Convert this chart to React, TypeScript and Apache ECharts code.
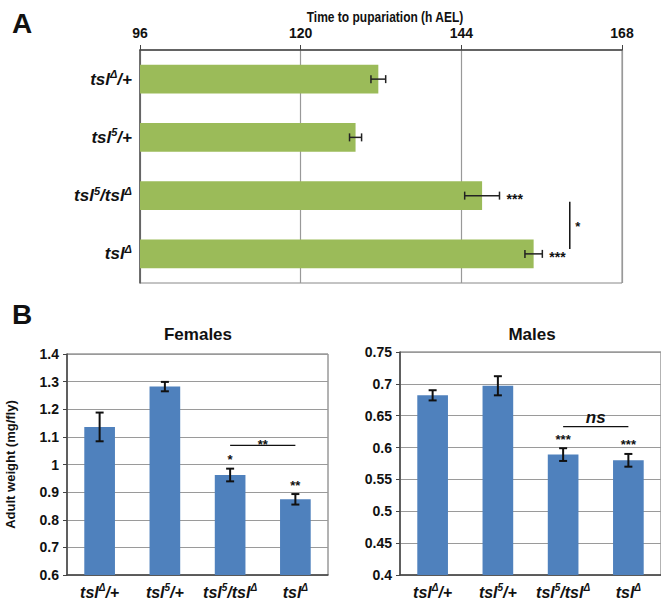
import React, { useEffect, useRef } from "react";
import * as echarts from "echarts";

// ---------- Data ----------
const genotypes = ["tslΔ/+", "tsl5/+", "tsl5/tslΔ", "tslΔ"];
const timeTicks = [96, 120, 144, 168];
const timeTitle = "Time to pupariation (h AEL)";
const timeMeans = [131.6, 128.2, 147.1, 154.8];
const timeErrors = [1.1, 0.9, 2.6, 1.3];
const timeSig = ["", "", "***", "***"];
const timeBracket = [160.2, 2, 3]; // x value, from row, to row
const timeBracketLabel = "*";

const femaleMeans = [1.136, 1.282, 0.962, 0.874];
const femaleErrors = [0.052, 0.017, 0.023, 0.019];
const femaleSig = ["", "", "*", "**"];
const femaleBracket = [2, 3, 1.069]; // from cat, to cat, y value
const femaleBracketLabel = "**";

const maleMeans = [0.682, 0.697, 0.589, 0.58];
const maleErrors = [0.008, 0.015, 0.01, 0.01];
const maleSig = ["", "", "***", "***"];
const maleBracket = [2, 3, 0.633];
const maleBracketLabel = "ns";

const FONT = "Liberation Sans, Arial, sans-serif";

function richLabel(s: string) {
  const parts = s.split(/(tsl)(Δ|5)/);
  let out = "";
  for (let i = 0; i < parts.length; i++) {
    const p = parts[i];
    if (!p) continue;
    if (p === "tsl") {
      out += "{i|tsl}{s|" + parts[i + 1] + "}";
      i++;
    } else {
      out += "{i|" + p + "}";
    }
  }
  return out;
}

function richStyles(size: number) {
  return {
    i: { fontFamily: FONT, fontWeight: "bold", fontStyle: "italic", fontSize: size, color: "#111", lineHeight: size + 4 },
    s: { fontFamily: FONT, fontWeight: "bold", fontStyle: "italic", fontSize: Math.round(size * 0.62), color: "#111", verticalAlign: "top", lineHeight: size + 4 },
  };
}

function starText(x: number, y: number, text: string, align: string, size = 14, italic = false) {
  return {
    type: "text",
    x,
    y,
    style: {
      text,
      fill: "#111",
      font: `${italic ? "italic " : ""}bold ${size}px ${FONT}`,
      align,
      verticalAlign: "middle",
    },
  };
}

export default function App() {
  const ref = useRef<HTMLDivElement>(null);
  useEffect(() => {
    const chart = echarts.init(ref.current!, null, { renderer: "svg" });

    const hErr = (params: any, api: any) => {
      const m = api.value(0);
      const c = api.value(1);
      const e = api.value(2);
      const lo = api.coord([m - e, c]);
      const hi = api.coord([m + e, c]);
      const st = { stroke: "#222", lineWidth: 1.5 };
      const children: any[] = [
        { type: "line", shape: { x1: lo[0], y1: lo[1], x2: hi[0], y2: hi[1] }, style: st },
        { type: "line", shape: { x1: lo[0], y1: lo[1] - 4, x2: lo[0], y2: lo[1] + 4 }, style: st },
        { type: "line", shape: { x1: hi[0], y1: hi[1] - 4, x2: hi[0], y2: hi[1] + 4 }, style: st },
      ];
      const lab = timeSig[params.dataIndex];
      if (lab) children.push(starText(hi[0] + 7, hi[1] + 3, lab, "left", 14));
      return { type: "group", children };
    };

    const vErr = (sig: string[]) => (params: any, api: any) => {
      const c = api.value(0);
      const m = api.value(1);
      const e = api.value(2);
      const top = api.coord([c, m + e]);
      const bot = api.coord([c, m - e]);
      const st = { stroke: "#111", lineWidth: 2 };
      const children: any[] = [
        { type: "line", shape: { x1: top[0], y1: top[1], x2: bot[0], y2: bot[1] }, style: st },
        { type: "line", shape: { x1: top[0] - 4, y1: top[1], x2: top[0] + 4, y2: top[1] }, style: st },
        { type: "line", shape: { x1: bot[0] - 4, y1: bot[1], x2: bot[0] + 4, y2: bot[1] }, style: st },
      ];
      const lab = sig[params.dataIndex];
      if (lab) children.push(starText(top[0], top[1] - 9, lab, "center", 13));
      return { type: "group", children };
    };

    const hBracket = (label: string, italic: boolean, size: number, gap: number) => (params: any, api: any) => {
      const a = api.coord([api.value(0), api.value(2)]);
      const b = api.coord([api.value(1), api.value(2)]);
      return {
        type: "group",
        children: [
          { type: "line", shape: { x1: a[0], y1: a[1], x2: b[0], y2: b[1] }, style: { stroke: "#111", lineWidth: 1.2 } },
          starText((a[0] + b[0]) / 2, a[1] - gap, label, "center", size, italic),
        ],
      };
    };

    const vBracket = (params: any, api: any) => {
      const x = api.value(0);
      const a = api.coord([x, api.value(1)]);
      const b = api.coord([x, api.value(2)]);
      return {
        type: "group",
        children: [
          { type: "line", shape: { x1: a[0], y1: a[1] + 6, x2: b[0], y2: b[1] - 5 }, style: { stroke: "#111", lineWidth: 1.5 } },
          starText(a[0] + 8, (a[1] + b[1]) / 2 + 2, timeBracketLabel, "center", 13),
        ],
      };
    };

    const catAxis = (gridIndex: number, size: number) => ({
      type: "category",
      gridIndex,
      data: genotypes,
      axisLine: { show: true, lineStyle: { color: "#444", width: 1.5 } },
      axisTick: { show: false },
      axisLabel: {
        formatter: (v: string) => richLabel(v),
        rich: richStyles(size),
        margin: 7,
        interval: 0,
      },
    });

    const valAxisB = (gridIndex: number, min: number, max: number, interval: number, name?: string) => ({
      type: "value",
      gridIndex,
      min,
      max,
      interval,
      name,
      nameLocation: "middle",
      nameGap: 50,
      nameTextStyle: { fontFamily: FONT, fontWeight: "bold", fontSize: 13, color: "#111" },
      axisLine: { show: true, lineStyle: { color: "#444", width: 1.5 } },
      axisTick: { show: true, length: 4, lineStyle: { color: "#444" } },
      splitLine: { show: true, lineStyle: { color: "#9a9a9a", width: 1.2 } },
      axisLabel: {
        fontFamily: FONT,
        fontWeight: "bold",
        fontSize: 14,
        color: "#111",
        margin: 8,
        formatter: (v: number) => String(+v.toFixed(2)),
      },
    });

    chart.setOption({
      animation: false,
      backgroundColor: "#fff",
      grid: [
        { left: 140, top: 50, width: 482, height: 233, show: true, borderColor: "#888", borderWidth: 1, backgroundColor: "transparent" },
        { left: 67, top: 354, width: 261, height: 222, show: true, borderColor: "#666", borderWidth: 1, backgroundColor: "transparent" },
        { left: 400, top: 352, width: 262, height: 224, show: true, borderColor: "#666", borderWidth: 1, backgroundColor: "transparent" },
      ],
      xAxis: [
        {
          type: "value",
          gridIndex: 0,
          position: "top",
          min: timeTicks[0],
          max: timeTicks[timeTicks.length - 1],
          interval: timeTicks[1] - timeTicks[0],
          axisLine: { show: true, lineStyle: { color: "#444", width: 1.5 } },
          axisTick: { show: true, length: 5, lineStyle: { color: "#444" } },
          splitLine: { show: true, lineStyle: { color: "#999", width: 1.2 } },
          axisLabel: { fontFamily: FONT, fontWeight: "bold", fontSize: 14, color: "#111", margin: 10 },
        },
        catAxis(1, 16),
        catAxis(2, 16),
      ],
      yAxis: [
        { ...catAxis(0, 17), inverse: true, axisLine: { show: true, lineStyle: { color: "#555", width: 1.5 } }, axisLabel: { ...catAxis(0, 17).axisLabel, margin: 8 } },
        valAxisB(1, 0.6, 1.4, 0.1, "Adult weight (mg/fly)"),
        valAxisB(2, 0.4, 0.75, 0.05),
      ],
      series: [
        {
          type: "bar",
          xAxisIndex: 0,
          yAxisIndex: 0,
          data: timeMeans,
          barWidth: "49%",
          itemStyle: { color: "#9BBB59" },
        },
        {
          type: "custom",
          xAxisIndex: 0,
          yAxisIndex: 0,
          data: timeMeans.map((m, i) => [m, i, timeErrors[i]]),
          encode: { x: 0, y: 1 },
          renderItem: hErr,
          z: 5,
        },
        {
          type: "custom",
          xAxisIndex: 0,
          yAxisIndex: 0,
          data: [timeBracket],
          encode: { x: 0, y: [1, 2] },
          renderItem: vBracket,
          z: 5,
        },
        {
          type: "bar",
          xAxisIndex: 1,
          yAxisIndex: 1,
          data: femaleMeans,
          barWidth: "47%",
          itemStyle: { color: "#4F81BD" },
        },
        {
          type: "custom",
          xAxisIndex: 1,
          yAxisIndex: 1,
          data: femaleMeans.map((m, i) => [i, m, femaleErrors[i]]),
          encode: { x: 0, y: 1 },
          renderItem: vErr(femaleSig),
          z: 5,
        },
        {
          type: "custom",
          xAxisIndex: 1,
          yAxisIndex: 1,
          data: [femaleBracket],
          encode: { x: [0, 1], y: 2 },
          renderItem: hBracket(femaleBracketLabel, false, 13, 1),
          z: 5,
        },
        {
          type: "bar",
          xAxisIndex: 2,
          yAxisIndex: 2,
          data: maleMeans,
          barWidth: "47%",
          itemStyle: { color: "#4F81BD" },
        },
        {
          type: "custom",
          xAxisIndex: 2,
          yAxisIndex: 2,
          data: maleMeans.map((m, i) => [i, m, maleErrors[i]]),
          encode: { x: 0, y: 1 },
          renderItem: vErr(maleSig),
          z: 5,
        },
        {
          type: "custom",
          xAxisIndex: 2,
          yAxisIndex: 2,
          data: [maleBracket],
          encode: { x: [0, 1], y: 2 },
          renderItem: hBracket(maleBracketLabel, true, 17, 9),
          z: 5,
        },
      ],
      graphic: [
        { type: "text", x: 12, y: 9, style: { text: "A", font: `bold 28px ${FONT}`, fill: "#111" } },
        { type: "text", x: 12, y: 300, style: { text: "B", font: `bold 28px ${FONT}`, fill: "#111" } },
        { type: "text", x: 385, y: 17, scaleX: 0.8, style: { text: timeTitle, font: `bold 15px ${FONT}`, fill: "#111", align: "center", verticalAlign: "middle" } },
        { type: "text", x: 198, y: 334, style: { text: "Females", font: `bold 17px ${FONT}`, fill: "#111", align: "center", verticalAlign: "middle" } },
        { type: "text", x: 532, y: 334, style: { text: "Males", font: `bold 17px ${FONT}`, fill: "#111", align: "center", verticalAlign: "middle" } },
      ],
    });

    return () => chart.dispose();
  }, []);

  return <div ref={ref} style={{ width: 661, height: 600, position: "absolute", left: 0, top: 0 }} />;
}
